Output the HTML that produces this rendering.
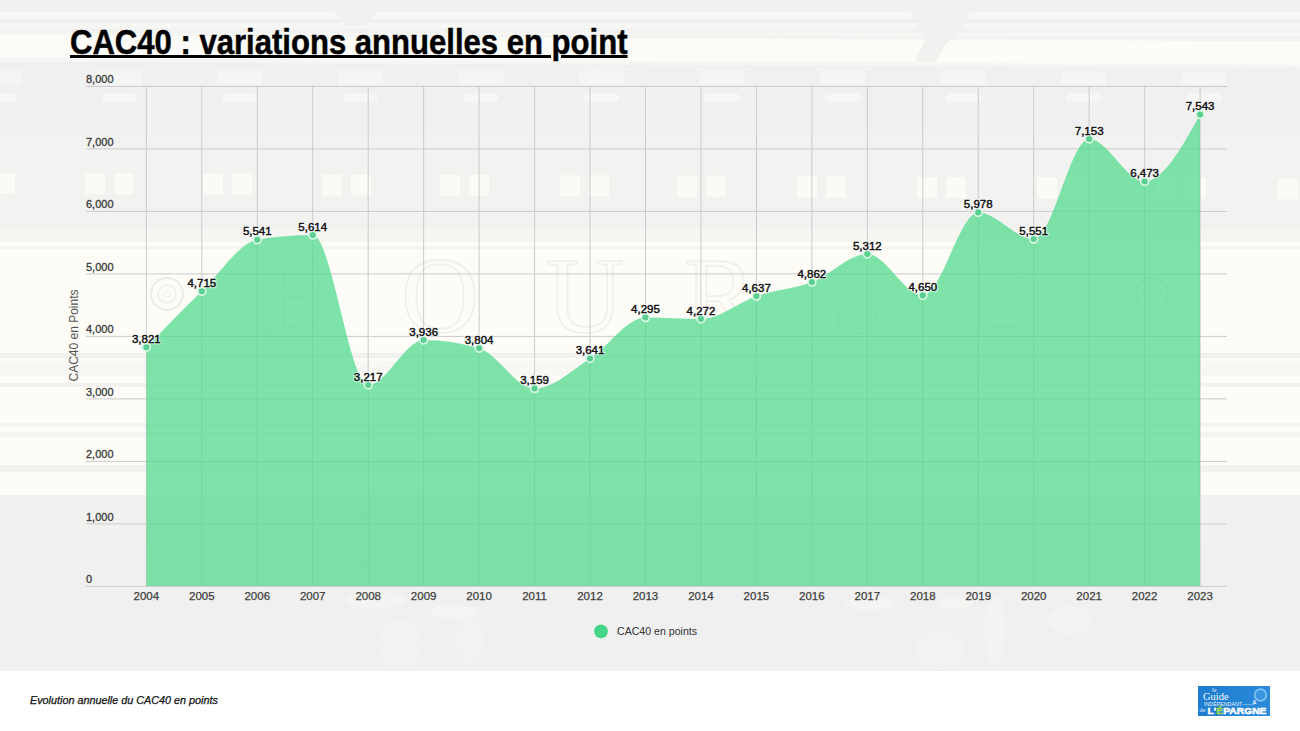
<!DOCTYPE html>
<html><head><meta charset="utf-8">
<style>
html,body{margin:0;padding:0;}
body{width:1300px;height:731px;overflow:hidden;background:#fff;position:relative;font-family:"Liberation Sans",sans-serif;}
svg{display:block;}
#chart{position:absolute;left:0;top:0;}
.g{stroke:#cbcbcb;stroke-width:1;}
.dlh{font-family:"Liberation Sans",sans-serif;font-size:11.5px;fill:#fff;stroke:#fff;stroke-width:2.6;stroke-linejoin:round;opacity:0.55;text-anchor:middle;}
.dl{font-family:"Liberation Sans",sans-serif;font-size:11.5px;font-weight:normal;fill:#111;stroke:#111;stroke-width:0.45;text-anchor:middle;}
.yl{font-family:"Liberation Sans",sans-serif;font-size:11px;fill:#3a3a3a;stroke:#3a3a3a;stroke-width:0.3;}
.xl{font-family:"Liberation Sans",sans-serif;font-size:11.5px;fill:#3e3e3e;stroke:#3e3e3e;stroke-width:0.25;text-anchor:middle;}
#title{position:absolute;left:70px;top:22px;font-size:35.5px;font-weight:bold;color:#000;text-decoration:underline;text-decoration-thickness:2.5px;text-underline-offset:1px;white-space:nowrap;transform:scaleX(0.875);transform-origin:0 0;-webkit-text-stroke:0.5px #000;}
#foot{position:absolute;left:30px;top:694px;font-size:10.8px;font-style:italic;color:#111;-webkit-text-stroke:0.25px #111;}
</style></head><body>
<svg id="chart" width="1300" height="671" viewBox="0 0 1300 671">
<g id="bg"><rect x="0" y="0" width="1300" height="671" fill="#f0f0f0"/>
<rect x="0" y="0" width="1300" height="68" fill="#f3f3f1"/>
<rect x="0" y="0" width="1300" height="12" fill="#f1f1ef"/>
<rect x="0" y="12" width="1300" height="7" fill="#f7f7f5"/>
<rect x="0" y="19" width="1300" height="4" fill="#efefed"/>
<rect x="0" y="23" width="1300" height="5" fill="#f7f7f5"/>
<rect x="0" y="28" width="1300" height="5" fill="#f2f2f0"/>
<rect x="0" y="33" width="1300" height="2" fill="#f7f7f5"/>
<path d="M0,35 L1300,41.5 L1300,65 L0,58Z" fill="#fcfbf8"/>
<path d="M0,58 L1300,65 L1300,68 L0,62Z" fill="#f5f5f3"/>
<path d="M330,0 L385,0 L375,14 L365,26 L345,26 L335,12Z" fill="#f1f1ef"/>
<path d="M905,0 L975,0 L962,30 L945,45 L935,62 L915,62 L925,40 L915,20Z" fill="#f1f1ef"/>
<path d="M0,62 L1300,68 L1300,242 L0,242Z" fill="#f0f0f0"/>
<rect x="0" y="135" width="1300" height="95" fill="#f2f2f0"/>
<rect x="-148.5" y="68" width="54" height="2" fill="#f3f3f1"/>
<rect x="-144.0" y="71" width="45" height="14" fill="#f5f5f3"/>
<rect x="-139.5" y="93" width="36" height="10" rx="5" fill="#f6f6f4"/>
<rect x="-28.0" y="68" width="54" height="2" fill="#f3f3f1"/>
<rect x="-23.5" y="71" width="45" height="14" fill="#f5f5f3"/>
<rect x="-19.0" y="93" width="36" height="10" rx="5" fill="#f6f6f4"/>
<rect x="92.5" y="68" width="54" height="2" fill="#f3f3f1"/>
<rect x="97.0" y="71" width="45" height="14" fill="#f5f5f3"/>
<rect x="101.5" y="93" width="36" height="10" rx="5" fill="#f6f6f4"/>
<rect x="213.0" y="68" width="54" height="2" fill="#f3f3f1"/>
<rect x="217.5" y="71" width="45" height="14" fill="#f5f5f3"/>
<rect x="222.0" y="93" width="36" height="10" rx="5" fill="#f6f6f4"/>
<rect x="333.5" y="68" width="54" height="2" fill="#f3f3f1"/>
<rect x="338.0" y="71" width="45" height="14" fill="#f5f5f3"/>
<rect x="342.5" y="93" width="36" height="10" rx="5" fill="#f6f6f4"/>
<rect x="454.0" y="68" width="54" height="2" fill="#f3f3f1"/>
<rect x="458.5" y="71" width="45" height="14" fill="#f5f5f3"/>
<rect x="463.0" y="93" width="36" height="10" rx="5" fill="#f6f6f4"/>
<rect x="574.5" y="68" width="54" height="2" fill="#f3f3f1"/>
<rect x="579.0" y="71" width="45" height="14" fill="#f5f5f3"/>
<rect x="583.5" y="93" width="36" height="10" rx="5" fill="#f6f6f4"/>
<rect x="695.0" y="68" width="54" height="2" fill="#f3f3f1"/>
<rect x="699.5" y="71" width="45" height="14" fill="#f5f5f3"/>
<rect x="704.0" y="93" width="36" height="10" rx="5" fill="#f6f6f4"/>
<rect x="815.5" y="68" width="54" height="2" fill="#f3f3f1"/>
<rect x="820.0" y="71" width="45" height="14" fill="#f5f5f3"/>
<rect x="824.5" y="93" width="36" height="10" rx="5" fill="#f6f6f4"/>
<rect x="936.0" y="68" width="54" height="2" fill="#f3f3f1"/>
<rect x="940.5" y="71" width="45" height="14" fill="#f5f5f3"/>
<rect x="945.0" y="93" width="36" height="10" rx="5" fill="#f6f6f4"/>
<rect x="1056.5" y="68" width="54" height="2" fill="#f3f3f1"/>
<rect x="1061.0" y="71" width="45" height="14" fill="#f5f5f3"/>
<rect x="1065.5" y="93" width="36" height="10" rx="5" fill="#f6f6f4"/>
<rect x="1177.0" y="68" width="54" height="2" fill="#f3f3f1"/>
<rect x="1181.5" y="71" width="45" height="14" fill="#f5f5f3"/>
<rect x="1186.0" y="93" width="36" height="10" rx="5" fill="#f6f6f4"/>
<rect x="1297.5" y="68" width="54" height="2" fill="#f3f3f1"/>
<rect x="1302.0" y="71" width="45" height="14" fill="#f5f5f3"/>
<rect x="1306.5" y="93" width="36" height="10" rx="5" fill="#f6f6f4"/>
<rect x="-34.0" y="172.9" width="20" height="21" fill="#fbfaf6"/>
<rect x="-5.0" y="172.9" width="20" height="21" fill="#fbfaf6"/>
<rect x="85.0" y="173.4" width="20" height="21" fill="#fbfaf6"/>
<rect x="114.0" y="173.4" width="20" height="21" fill="#fbfaf6"/>
<rect x="203.0" y="173.9" width="20" height="21" fill="#fbfaf6"/>
<rect x="232.0" y="173.9" width="20" height="21" fill="#fbfaf6"/>
<rect x="322.0" y="174.4" width="20" height="21" fill="#fbfaf6"/>
<rect x="351.0" y="174.4" width="20" height="21" fill="#fbfaf6"/>
<rect x="440.0" y="174.9" width="20" height="21" fill="#fbfaf6"/>
<rect x="469.0" y="174.9" width="20" height="21" fill="#fbfaf6"/>
<rect x="560.0" y="175.4" width="20" height="21" fill="#fbfaf6"/>
<rect x="589.0" y="175.4" width="20" height="21" fill="#fbfaf6"/>
<rect x="677.0" y="175.9" width="20" height="21" fill="#fbfaf6"/>
<rect x="706.0" y="175.9" width="20" height="21" fill="#fbfaf6"/>
<rect x="797.0" y="176.4" width="20" height="21" fill="#fbfaf6"/>
<rect x="826.0" y="176.4" width="20" height="21" fill="#fbfaf6"/>
<rect x="917.0" y="176.9" width="20" height="21" fill="#fbfaf6"/>
<rect x="946.0" y="176.9" width="20" height="21" fill="#fbfaf6"/>
<rect x="1037.0" y="177.4" width="20" height="21" fill="#fbfaf6"/>
<rect x="1066.0" y="177.4" width="20" height="21" fill="#fbfaf6"/>
<rect x="1157.0" y="177.9" width="20" height="21" fill="#fbfaf6"/>
<rect x="1186.0" y="177.9" width="20" height="21" fill="#fbfaf6"/>
<rect x="1278.0" y="178.4" width="20" height="21" fill="#fbfaf6"/>
<rect x="1307.0" y="178.4" width="20" height="21" fill="#fbfaf6"/>
<rect x="0" y="230" width="1300" height="12" fill="#f5f5f2"/>
<rect x="0" y="242" width="1300" height="253" fill="#fdfcf7"/>
<rect x="0" y="246" width="1300" height="3" fill="#f4f4f1"/>
<rect x="0" y="353" width="1300" height="5" fill="#f1f1ee"/>
<rect x="0" y="361" width="1300" height="15" fill="#f7f7f4"/>
<rect x="0" y="383" width="1300" height="4" fill="#f2f2ef"/>
<rect x="0" y="423" width="1300" height="4" fill="#f3f3f0"/>
<rect x="0" y="432" width="1300" height="5" fill="#f4f4f1"/>
<rect x="0" y="465" width="1300" height="7" fill="#f2f2ef"/>
<rect x="0" y="495" width="1300" height="176" fill="#f1f1f0"/>
<rect x="0" y="545" width="1300" height="126" fill="#f0f0f0"/>
<text x="298" y="332" style="font-family:'Liberation Serif',serif;font-size:108px;fill:none;stroke:#f1f0eb;stroke-width:1.8;text-anchor:middle">B</text>
<text x="440" y="332" style="font-family:'Liberation Serif',serif;font-size:108px;fill:none;stroke:#f1f0eb;stroke-width:1.8;text-anchor:middle">O</text>
<text x="585" y="332" style="font-family:'Liberation Serif',serif;font-size:108px;fill:none;stroke:#f1f0eb;stroke-width:1.8;text-anchor:middle">U</text>
<text x="720" y="332" style="font-family:'Liberation Serif',serif;font-size:108px;fill:none;stroke:#f1f0eb;stroke-width:1.8;text-anchor:middle">R</text>
<text x="862" y="332" style="font-family:'Liberation Serif',serif;font-size:108px;fill:none;stroke:#f1f0eb;stroke-width:1.8;text-anchor:middle">S</text>
<text x="1000" y="332" style="font-family:'Liberation Serif',serif;font-size:108px;fill:none;stroke:#f1f0eb;stroke-width:1.8;text-anchor:middle">E</text>
<circle cx="167" cy="294" r="16" fill="none" stroke="#ecebe7" stroke-width="2"/>
<circle cx="167" cy="294" r="9" fill="none" stroke="#efeeea" stroke-width="1.5"/>
<circle cx="167" cy="294" r="3" fill="none" stroke="#efeeea" stroke-width="1"/>
<circle cx="1152" cy="294" r="16" fill="none" stroke="#ecebe7" stroke-width="2"/>
<circle cx="1152" cy="294" r="9" fill="none" stroke="#efeeea" stroke-width="1.5"/>
<circle cx="1152" cy="294" r="3" fill="none" stroke="#efeeea" stroke-width="1"/>
<ellipse cx="375" cy="600" rx="30" ry="8" fill="#f4f4f2"/>
<ellipse cx="455" cy="612" rx="25" ry="7" fill="#f4f4f2"/>
<ellipse cx="400" cy="645" rx="22" ry="26" fill="#f2f2f0"/>
<ellipse cx="470" cy="640" rx="14" ry="25" fill="#f2f2f0"/>
<ellipse cx="870" cy="603" rx="25" ry="7" fill="#f4f4f2"/>
<ellipse cx="955" cy="603" rx="18" ry="6" fill="#f4f4f2"/>
<ellipse cx="1070" cy="620" rx="22" ry="14" fill="#f3f3f1"/>
<ellipse cx="995" cy="630" rx="10" ry="35" fill="#f3f3f1"/>
<ellipse cx="940" cy="650" rx="25" ry="20" fill="#f2f2f0"/>
<circle cx="380" cy="540" r="30" fill="none" stroke="#ebebe9" stroke-width="3"/>
<circle cx="520" cy="540" r="28" fill="none" stroke="#ebebe9" stroke-width="3"/>
<circle cx="880" cy="540" r="30" fill="none" stroke="#ebebe9" stroke-width="3"/>
<circle cx="1040" cy="540" r="30" fill="none" stroke="#ebebe9" stroke-width="3"/></g>
<line x1="86" x2="1227" y1="586.40" y2="586.40" class="g"/><line x1="86" x2="1227" y1="523.90" y2="523.90" class="g"/><line x1="86" x2="1227" y1="461.40" y2="461.40" class="g"/><line x1="86" x2="1227" y1="398.90" y2="398.90" class="g"/><line x1="86" x2="1227" y1="336.40" y2="336.40" class="g"/><line x1="86" x2="1227" y1="273.90" y2="273.90" class="g"/><line x1="86" x2="1227" y1="211.40" y2="211.40" class="g"/><line x1="86" x2="1227" y1="148.90" y2="148.90" class="g"/><line x1="86" x2="1227" y1="86.40" y2="86.40" class="g"/><line x1="146.35" x2="146.35" y1="86.5" y2="586" class="g"/><line x1="201.81" x2="201.81" y1="86.5" y2="586" class="g"/><line x1="257.27" x2="257.27" y1="86.5" y2="586" class="g"/><line x1="312.73" x2="312.73" y1="86.5" y2="586" class="g"/><line x1="368.19" x2="368.19" y1="86.5" y2="586" class="g"/><line x1="423.65" x2="423.65" y1="86.5" y2="586" class="g"/><line x1="479.11" x2="479.11" y1="86.5" y2="586" class="g"/><line x1="534.57" x2="534.57" y1="86.5" y2="586" class="g"/><line x1="590.03" x2="590.03" y1="86.5" y2="586" class="g"/><line x1="645.49" x2="645.49" y1="86.5" y2="586" class="g"/><line x1="700.95" x2="700.95" y1="86.5" y2="586" class="g"/><line x1="756.41" x2="756.41" y1="86.5" y2="586" class="g"/><line x1="811.87" x2="811.87" y1="86.5" y2="586" class="g"/><line x1="867.33" x2="867.33" y1="86.5" y2="586" class="g"/><line x1="922.79" x2="922.79" y1="86.5" y2="586" class="g"/><line x1="978.25" x2="978.25" y1="86.5" y2="586" class="g"/><line x1="1033.71" x2="1033.71" y1="86.5" y2="586" class="g"/><line x1="1089.17" x2="1089.17" y1="86.5" y2="586" class="g"/><line x1="1144.63" x2="1144.63" y1="86.5" y2="586" class="g"/><line x1="1200.09" x2="1200.09" y1="86.5" y2="586" class="g"/>
<path d="M146.35,347.19C164.84,328.21 183.32,309.23 201.81,291.31C220.30,273.40 238.78,242.73 257.27,239.69C275.76,236.65 294.24,235.12 312.73,235.12C331.22,235.12 349.70,384.94 368.19,384.94C386.68,384.94 405.16,340.00 423.65,340.00C442.14,340.00 460.62,342.75 479.11,348.25C497.60,353.75 516.08,388.56 534.57,388.56C553.06,388.56 571.54,370.27 590.03,358.44C608.52,346.60 627.00,317.56 645.49,317.56C663.98,317.56 682.46,319.00 700.95,319.00C719.44,319.00 737.92,302.33 756.41,296.19C774.90,290.04 793.38,289.16 811.87,282.12C830.36,275.09 848.84,254.00 867.33,254.00C885.82,254.00 904.30,295.38 922.79,295.38C941.28,295.38 959.76,212.38 978.25,212.38C996.74,212.38 1015.22,239.06 1033.71,239.06C1052.20,239.06 1070.68,138.94 1089.17,138.94C1107.66,138.94 1126.14,181.44 1144.63,181.44C1163.12,181.44 1181.60,148.00 1200.09,114.56L1200.09,586.00L146.35,586.00Z" fill="#4cd98b" fill-opacity="0.72"/>
<circle cx="146.35" cy="347.19" r="3.9" fill="#5acf90" stroke="#d8f7e5" stroke-width="1.7"/><circle cx="201.81" cy="291.31" r="3.9" fill="#5acf90" stroke="#d8f7e5" stroke-width="1.7"/><circle cx="257.27" cy="239.69" r="3.9" fill="#5acf90" stroke="#d8f7e5" stroke-width="1.7"/><circle cx="312.73" cy="235.12" r="3.9" fill="#5acf90" stroke="#d8f7e5" stroke-width="1.7"/><circle cx="368.19" cy="384.94" r="3.9" fill="#5acf90" stroke="#d8f7e5" stroke-width="1.7"/><circle cx="423.65" cy="340.00" r="3.9" fill="#5acf90" stroke="#d8f7e5" stroke-width="1.7"/><circle cx="479.11" cy="348.25" r="3.9" fill="#5acf90" stroke="#d8f7e5" stroke-width="1.7"/><circle cx="534.57" cy="388.56" r="3.9" fill="#5acf90" stroke="#d8f7e5" stroke-width="1.7"/><circle cx="590.03" cy="358.44" r="3.9" fill="#5acf90" stroke="#d8f7e5" stroke-width="1.7"/><circle cx="645.49" cy="317.56" r="3.9" fill="#5acf90" stroke="#d8f7e5" stroke-width="1.7"/><circle cx="700.95" cy="319.00" r="3.9" fill="#5acf90" stroke="#d8f7e5" stroke-width="1.7"/><circle cx="756.41" cy="296.19" r="3.9" fill="#5acf90" stroke="#d8f7e5" stroke-width="1.7"/><circle cx="811.87" cy="282.12" r="3.9" fill="#5acf90" stroke="#d8f7e5" stroke-width="1.7"/><circle cx="867.33" cy="254.00" r="3.9" fill="#5acf90" stroke="#d8f7e5" stroke-width="1.7"/><circle cx="922.79" cy="295.38" r="3.9" fill="#5acf90" stroke="#d8f7e5" stroke-width="1.7"/><circle cx="978.25" cy="212.38" r="3.9" fill="#5acf90" stroke="#d8f7e5" stroke-width="1.7"/><circle cx="1033.71" cy="239.06" r="3.9" fill="#5acf90" stroke="#d8f7e5" stroke-width="1.7"/><circle cx="1089.17" cy="138.94" r="3.9" fill="#5acf90" stroke="#d8f7e5" stroke-width="1.7"/><circle cx="1144.63" cy="181.44" r="3.9" fill="#5acf90" stroke="#d8f7e5" stroke-width="1.7"/><circle cx="1200.09" cy="114.56" r="3.9" fill="#5acf90" stroke="#d8f7e5" stroke-width="1.7"/>
<text x="146.35" y="342.99" class="dlh">3,821</text><text x="201.81" y="287.11" class="dlh">4,715</text><text x="257.27" y="235.49" class="dlh">5,541</text><text x="312.73" y="230.93" class="dlh">5,614</text><text x="368.19" y="380.74" class="dlh">3,217</text><text x="423.65" y="335.80" class="dlh">3,936</text><text x="479.11" y="344.05" class="dlh">3,804</text><text x="534.57" y="384.36" class="dlh">3,159</text><text x="590.03" y="354.24" class="dlh">3,641</text><text x="645.49" y="313.36" class="dlh">4,295</text><text x="700.95" y="314.80" class="dlh">4,272</text><text x="756.41" y="291.99" class="dlh">4,637</text><text x="811.87" y="277.93" class="dlh">4,862</text><text x="867.33" y="249.80" class="dlh">5,312</text><text x="922.79" y="291.18" class="dlh">4,650</text><text x="978.25" y="208.18" class="dlh">5,978</text><text x="1033.71" y="234.86" class="dlh">5,551</text><text x="1089.17" y="134.74" class="dlh">7,153</text><text x="1144.63" y="177.24" class="dlh">6,473</text><text x="1200.09" y="110.36" class="dlh">7,543</text><text x="146.35" y="342.99" class="dl">3,821</text><text x="201.81" y="287.11" class="dl">4,715</text><text x="257.27" y="235.49" class="dl">5,541</text><text x="312.73" y="230.93" class="dl">5,614</text><text x="368.19" y="380.74" class="dl">3,217</text><text x="423.65" y="335.80" class="dl">3,936</text><text x="479.11" y="344.05" class="dl">3,804</text><text x="534.57" y="384.36" class="dl">3,159</text><text x="590.03" y="354.24" class="dl">3,641</text><text x="645.49" y="313.36" class="dl">4,295</text><text x="700.95" y="314.80" class="dl">4,272</text><text x="756.41" y="291.99" class="dl">4,637</text><text x="811.87" y="277.93" class="dl">4,862</text><text x="867.33" y="249.80" class="dl">5,312</text><text x="922.79" y="291.18" class="dl">4,650</text><text x="978.25" y="208.18" class="dl">5,978</text><text x="1033.71" y="234.86" class="dl">5,551</text><text x="1089.17" y="134.74" class="dl">7,153</text><text x="1144.63" y="177.24" class="dl">6,473</text><text x="1200.09" y="110.36" class="dl">7,543</text>
<text x="86" y="583.4" class="yl">0</text><text x="86" y="520.9" class="yl">1,000</text><text x="86" y="458.4" class="yl">2,000</text><text x="86" y="395.9" class="yl">3,000</text><text x="86" y="333.4" class="yl">4,000</text><text x="86" y="270.9" class="yl">5,000</text><text x="86" y="208.4" class="yl">6,000</text><text x="86" y="145.9" class="yl">7,000</text><text x="86" y="83.4" class="yl">8,000</text>
<text x="146.35" y="600" class="xl">2004</text><text x="201.81" y="600" class="xl">2005</text><text x="257.27" y="600" class="xl">2006</text><text x="312.73" y="600" class="xl">2007</text><text x="368.19" y="600" class="xl">2008</text><text x="423.65" y="600" class="xl">2009</text><text x="479.11" y="600" class="xl">2010</text><text x="534.57" y="600" class="xl">2011</text><text x="590.03" y="600" class="xl">2012</text><text x="645.49" y="600" class="xl">2013</text><text x="700.95" y="600" class="xl">2014</text><text x="756.41" y="600" class="xl">2015</text><text x="811.87" y="600" class="xl">2016</text><text x="867.33" y="600" class="xl">2017</text><text x="922.79" y="600" class="xl">2018</text><text x="978.25" y="600" class="xl">2019</text><text x="1033.71" y="600" class="xl">2020</text><text x="1089.17" y="600" class="xl">2021</text><text x="1144.63" y="600" class="xl">2022</text><text x="1200.09" y="600" class="xl">2023</text>
<text transform="translate(77.6,335.5) rotate(-90)" style="font-size:12px;fill:#555;text-anchor:middle;">CAC40 en Points</text>
<circle cx="601" cy="631.3" r="6.9" fill="#45d589"/>
<text x="617" y="635" style="font-size:10.6px;fill:#333;">CAC40 en points</text>
</svg>
<div id="title">CAC40 : variations annuelles en point</div>
<div id="foot">Evolution annuelle du CAC40 en points</div>
<svg style="position:absolute;left:1198px;top:686px" width="72" height="30" viewBox="0 0 72 30">
<defs><linearGradient id="lg" x1="0" y1="0" x2="1" y2="0"><stop offset="0" stop-color="#1f7bcf"/><stop offset="0.6" stop-color="#2585d6"/><stop offset="1" stop-color="#2c8ad8"/></linearGradient></defs>
<rect x="0" y="0" width="72" height="30" fill="url(#lg)"/>
<circle cx="62.5" cy="9" r="5.8" fill="#3b96df" stroke="#7cc3f2" stroke-width="1.8"/>
<text x="14" y="6.3" style="font-family:'Liberation Serif',serif;font-size:6px;fill:#e8f2ff">le</text>
<text x="5" y="13.5" style="font-family:'Liberation Serif',serif;font-size:10.5px;fill:#f2f8ff">Guide</text>
<text x="6" y="19.5" textLength="38" lengthAdjust="spacingAndGlyphs" style="font-family:'Liberation Sans',sans-serif;font-size:6px;fill:#eaf3ff">INDÉPENDANT</text>
<rect x="44.5" y="18.3" width="12" height="0.8" fill="#8cc4f0"/>
<text x="54.5" y="17.5" style="font-family:'Liberation Sans',sans-serif;font-size:5.5px;font-weight:bold;fill:#e6f2ff">&amp;</text>
<text x="1.5" y="25.5" style="font-family:'Liberation Serif',serif;font-size:6.5px;fill:#dcebff">de</text>
<text x="9.5" y="28" textLength="59" lengthAdjust="spacingAndGlyphs" style="font-family:'Liberation Sans',sans-serif;font-size:9.6px;font-weight:bold;fill:#ffffff;stroke:#ffffff;stroke-width:0.5">L'<tspan fill="#a3d44e" stroke="#a3d44e">É</tspan>PARGNE</text>
</svg>
</body></html>
